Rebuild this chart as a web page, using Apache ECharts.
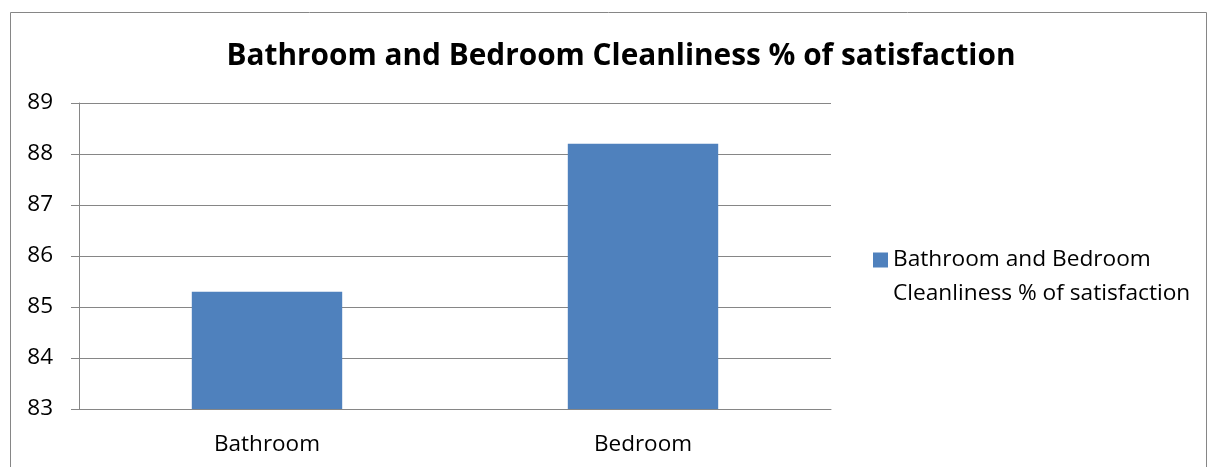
<!DOCTYPE html>
<html><head><meta charset="utf-8">
<script src="https://cdn.jsdelivr.net/npm/echarts@6/dist/echarts.min.js"></script>
<style>html,body{margin:0;padding:0;background:#fff}#c{width:1213px;height:467px}</style>
</head><body><div id="c"></div>
<script>
const title = 'Bathroom and Bedroom Cleanliness % of satisfaction';
const categories = ['Bathroom', 'Bedroom'];
const seriesName = 'Bathroom and Bedroom Cleanliness % of satisfaction';
const legendLines = ['Bathroom and Bedroom', 'Cleanliness % of satisfaction'];
const values = [85.3, 88.2];
const yMin = 83, yMax = 89, yStep = 1;

const chart = echarts.init(document.getElementById('c'));
const axisColor = '#868686';
chart.setOption({
  animation: false,
  backgroundColor: '#fff',
  title: {
    text: title, left: 616, top: 37, textAlign: 'center',
    textStyle: {fontFamily: 'Open Sans', fontWeight: 'bold', fontSize: 29.8, color: '#000'}
  },
  graphic: [{
    type: 'rect', shape: {x: 10.5, y: 12.5, width: 1196, height: 470},
    style: {fill: 'none', stroke: '#868686', lineWidth: 1}, silent: true
  }],
  legend: {
    left: 873, top: 209, orient: 'vertical', padding: 0,
    itemWidth: 15, itemHeight: 15, icon: 'rect',
    formatter: () => ' \n' + legendLines.join('\n'),
    textStyle: {fontFamily: 'Open Sans', fontSize: 22.7, color: '#000', lineHeight: 34}
  },
  grid: {left: 79, right: 382, top: 103, bottom: 58},
  xAxis: {
    type: 'category', data: categories,
    axisLine: {lineStyle: {color: axisColor}},
    axisTick: {length: 8, lineStyle: {color: axisColor}},
    axisLabel: {fontFamily: 'Open Sans', fontSize: 22.5, color: '#000', margin: 24}
  },
  yAxis: {
    type: 'value', min: yMin, max: yMax, interval: yStep,
    axisLine: {show: true, lineStyle: {color: axisColor}},
    axisTick: {show: true, length: 8, lineStyle: {color: axisColor}},
    splitLine: {lineStyle: {color: axisColor}},
    axisLabel: {fontFamily: 'Open Sans', fontSize: 22.5, color: '#000', margin: 26}
  },
  series: [{
    name: seriesName, type: 'bar', data: values, barWidth: '40%',
    itemStyle: {color: '#4f81bd'}
  }]
});
</script></body></html>
